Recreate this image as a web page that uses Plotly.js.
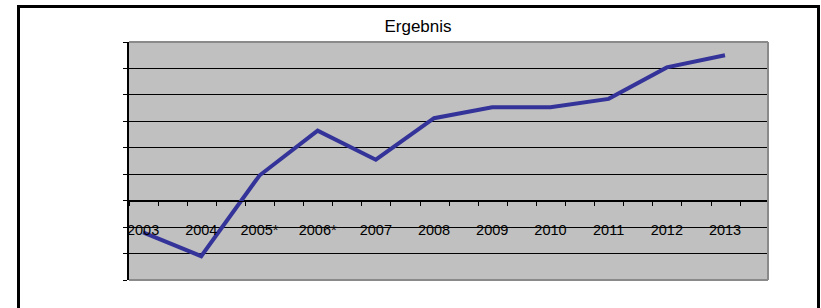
<!DOCTYPE html>
<html>
<head>
<meta charset="utf-8">
<script src="https://cdn.plot.ly/plotly-3.0.1.min.js"></script>
<style>
  html, body { margin: 0; padding: 0; background: #fff; overflow: hidden; }
  #wrap { position: relative; width: 821px; height: 308px; }
  #chart { position: absolute; left: 0; top: 0; width: 821px; height: 308px; }
  #frame { position: absolute; left: 17px; top: 5px; width: 803px; height: 330px;
           box-sizing: border-box; border: 3px solid #000; pointer-events: none; }
</style>
</head>
<body>
<div id="wrap">
  <div id="chart"></div>
  <div id="frame"></div>
</div>
<script>
// ---- data ----
const years = ['2003', '2004', '2005*', '2006*', '2007', '2008', '2009', '2010', '2011', '2012', '2013'];
const ergebnis = [-1.2, -2.1, 0.95, 2.65, 1.55, 3.12, 3.53, 3.53, 3.85, 5.04, 5.5];
const chartTitle = 'Ergebnis';

const xIdx = years.map((_, i) => i);
const xRange = [-0.241, 10.739];

// tick marks sit slightly off the category centres (two per category);
// the labels are carried by the first mark of each pair and shifted onto the centre
const tickVals = [];
const tickText = [];
xIdx.forEach((i) => {
  tickVals.push(i - 0.24); tickText.push(years[i]);
  tickVals.push(i + 0.26); tickText.push('');
});

const trace = {
  type: 'scatter',
  mode: 'lines',
  x: xIdx,
  y: ergebnis,
  line: { color: '#333399', width: 4 },
  hoverinfo: 'skip',
  showlegend: false
};

const grey = '#8a8a8a';
const layout = {
  width: 821,
  height: 308,
  margin: { l: 129, r: 53, t: 42, b: 28, pad: 0 },
  paper_bgcolor: '#ffffff',
  plot_bgcolor: '#c0c0c0',
  font: { family: 'Liberation Sans, Arial, sans-serif', color: '#000' },
  title: {
    text: chartTitle,
    font: { size: 17, color: '#000', family: 'Liberation Sans, Arial, sans-serif' },
    xref: 'container', x: 418 / 821, xanchor: 'center',
    yref: 'container', y: 1 - 26 / 308, yanchor: 'middle'
  },
  xaxis: {
    type: 'linear',
    range: xRange,
    tickmode: 'array',
    tickvals: tickVals,
    ticktext: tickText,
    ticks: 'outside',
    ticklen: 4,
    tickcolor: '#000',
    tickwidth: 1,
    ticklabelshift: 14,
    ticklabelstandoff: 12,
    tickfont: { size: 14.5, color: '#000' },
    showgrid: false,
    zeroline: false,
    showline: true,
    linecolor: '#000',
    linewidth: 1,
    anchor: 'free',
    position: 3 / 9,
    fixedrange: true
  },
  yaxis: {
    range: [-3, 6],
    tickmode: 'linear',
    tick0: 0,
    dtick: 1,
    ticks: 'outside',
    ticklen: 4,
    tickcolor: '#000',
    tickwidth: 1,
    showticklabels: false,
    showgrid: true,
    gridcolor: '#000',
    gridwidth: 1,
    zeroline: false,
    showline: true,
    linecolor: '#000',
    linewidth: 2,
    fixedrange: true
  },
  shapes: [
    { type: 'line', xref: 'paper', yref: 'paper', x0: 0, x1: 1, y0: 1, y1: 1, line: { color: grey, width: 2 }, layer: 'above' },
    { type: 'line', xref: 'paper', yref: 'paper', x0: 1, x1: 1, y0: 0, y1: 1, line: { color: grey, width: 2 }, layer: 'above' },
    { type: 'line', xref: 'paper', yref: 'paper', x0: 0, x1: 1, y0: 0, y1: 0, line: { color: grey, width: 2 }, layer: 'above' }
  ]
};

Plotly.newPlot('chart', [trace], layout, { staticPlot: true, displayModeBar: false });
</script>
</body>
</html>
